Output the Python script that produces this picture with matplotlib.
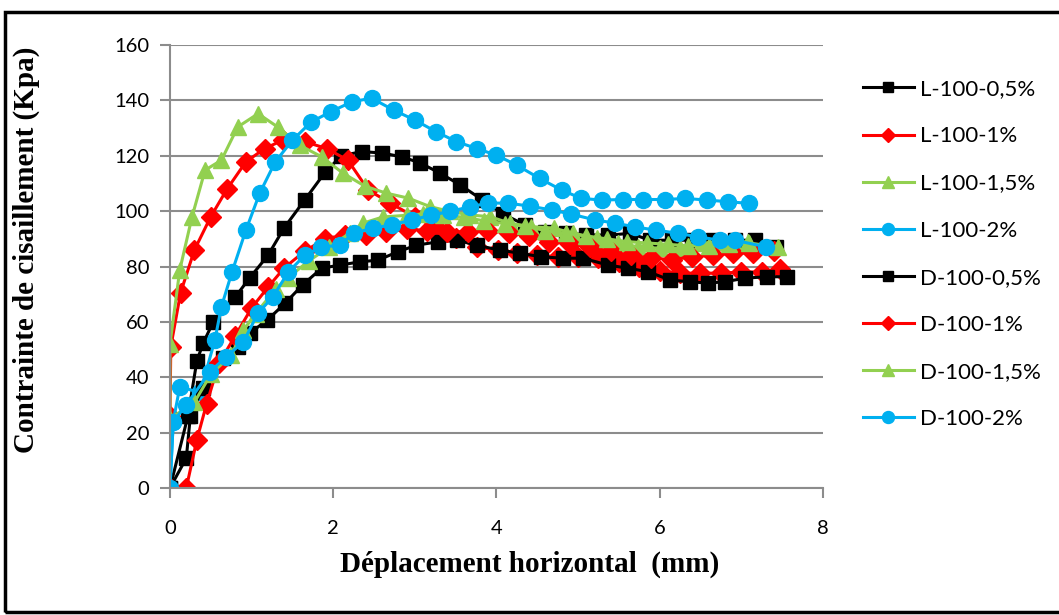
import matplotlib
matplotlib.use("Agg")
import matplotlib.pyplot as plt
from matplotlib.patches import Rectangle

# ------------------------
# DATA
# ------------------------
labels = ["L-100-0,5%", "L-100-1%", "L-100-1,5%", "L-100-2%",
          "D-100-0,5%", "D-100-1%", "D-100-1,5%", "D-100-2%"]

l05_x = [0, 0.22, 0.33, 0.41, 0.53, 0.8, 0.98, 1.2, 1.4, 1.65, 1.9, 2.1, 2.35, 2.6, 2.84,
         3.06, 3.31, 3.56, 3.82, 4.08, 4.35, 4.6, 4.85, 5.1, 5.37, 5.64, 5.88, 6.15, 6.4,
         6.65, 6.92, 7.17, 7.43]
l05_y = [0, 26, 46, 52.5, 60, 69, 76, 84, 94, 104, 114, 120, 121.5, 121, 119.6,
         117.5, 113.7, 109.4, 104.2, 99, 95, 92.5, 92, 91.5, 91.3, 92, 89.5, 89.5, 89.5,
         89.5, 89.5, 89.5, 87.1]

l1_x = [0, 0, 0.01, 0.13, 0.3, 0.5, 0.7, 0.93, 1.16, 1.38, 1.65, 1.92, 2.18, 2.43, 2.7,
        3.0, 3.27, 3.51, 3.76, 4.02, 4.25, 4.5, 4.75, 5.0, 5.25, 5.5, 5.75, 6.0, 6.25,
        6.5, 6.75, 7.0, 7.25, 7.47]
l1_y = [0, 26, 51, 70.5, 86, 98, 108, 117.8, 122.6, 125.6, 125.1, 122.6, 118.4, 107.6, 102.9,
        97.9, 93.9, 90.3, 87.1, 85.9, 84.8, 84, 83.5, 83.5, 83, 81.5, 80, 78.5, 77.6,
        77.6, 77.6, 78, 78, 79]

l15_x = [0, 0, 0.12, 0.27, 0.43, 0.63, 0.83, 1.08, 1.32, 1.59, 1.86, 2.12, 2.39, 2.65,
         2.92, 3.19, 3.43, 3.68, 3.92, 4.17, 4.43, 4.7, 4.94, 5.23, 5.49, 5.74, 6.0, 6.25,
         6.51, 6.7, 6.9, 7.08]
l15_y = [0, 52, 78.7, 97.9, 114.8, 118.4, 130.4, 135.2, 130.4, 123.8, 119.6, 113.7, 109, 106.5,
         104.7, 101.6, 99.9, 98.6, 98, 95.6, 94.4, 93.9, 92, 90.3, 88.4, 87.1, 86.6, 86.6,
         88.4, 88.9, 88.9, 88.9]

l2_x = [0, 0.04, 0.12, 0.37, 0.55, 0.63, 0.76, 0.93, 1.1, 1.29, 1.5, 1.73, 1.97, 2.23,
        2.47, 2.74, 3.0, 3.26, 3.51, 3.76, 4.0, 4.25, 4.53, 4.8, 5.04, 5.29, 5.55, 5.8,
        6.07, 6.31, 6.58, 6.84, 7.09]
l2_y = [0, 24, 36.5, 34.5, 53.4, 65.4, 78, 93.1, 106.5, 117.8, 125.6, 132.2, 135.9, 139.5,
        140.8, 136.5, 132.9, 128.7, 125.1, 122.6, 120.2, 116.6, 111.8, 107.6, 104.6, 104, 104.2, 104.2,
        104.2, 104.6, 104, 103.4, 102.8]

d05_x = [0, 0.2, 0.25, 0.4, 0.65, 0.83, 0.98, 1.19, 1.41, 1.63, 1.86, 2.08, 2.33, 2.55,
         2.79, 3.02, 3.28, 3.52, 3.76, 4.04, 4.29, 4.55, 4.82, 5.06, 5.37, 5.61, 5.86, 6.13,
         6.37, 6.59, 6.8, 7.05, 7.31, 7.56]
d05_y = [0, 10.8, 26, 36, 47, 51, 56, 60.6, 66.7, 73.5, 79.4, 80.5, 81.7, 82.3,
         85.3, 87.7, 88.9, 89.5, 87.7, 85.9, 84.8, 83.5, 83, 83, 80.5, 79.4, 78.1, 75.1,
         74.5, 74, 74.5, 75.8, 76.3, 76.3]

d1_x = [0, 0.2, 0.33, 0.45, 0.6, 0.8, 1.0, 1.2, 1.4, 1.65, 1.9, 2.15, 2.4, 2.65, 2.9,
        3.15, 3.4, 3.65, 3.9, 4.15, 4.4, 4.65, 4.9, 5.15, 5.4, 5.65, 5.9, 6.15, 6.4, 6.65,
        6.9, 7.15, 7.4]
d1_y = [0, 0, 17.5, 30.5, 45, 55, 65, 72.5, 79.5, 85.5, 90, 91.5, 91.5, 92.5, 93.5,
        93, 92.5, 92.5, 93, 92, 91, 89, 88, 87, 85.5, 84, 83, 82.5, 83.5, 84,
        84.8, 85, 85.5]

d15_x = [0, 0, 0.3, 0.5, 0.75, 0.9, 1.05, 1.3, 1.45, 1.7, 1.95, 2.2, 2.37, 2.61, 2.9,
         3.1, 3.35, 3.6, 3.85, 4.1, 4.35, 4.6, 4.85, 5.1, 5.35, 5.6, 5.85, 6.1, 6.35,
         6.6, 6.85, 7.1, 7.45]
d15_y = [0, 25, 31, 41, 48, 57, 63, 72, 76, 82, 87, 92, 95.7, 97.9, 98.5,
         99, 98.5, 97.8, 96.5, 95.5, 94.5, 93, 92, 91, 90, 89, 88.5, 88, 87.5,
         87.5, 88, 88.5, 87]

d2_x = [0, 0.04, 0.2, 0.49, 0.69, 0.9, 1.08, 1.26, 1.45, 1.65, 1.85, 2.08, 2.25, 2.49,
        2.72, 2.96, 3.2, 3.43, 3.68, 3.9, 4.14, 4.41, 4.68, 4.92, 5.21, 5.45, 5.7, 5.96,
        6.23, 6.47, 6.74, 6.92, 7.3]
d2_y = [0, 24, 30, 42, 47.4, 52.8, 63.2, 69, 78, 84, 87, 87.7, 92, 93.9,
        95, 96.8, 98.5, 99.9, 101.6, 102.9, 102.9, 101.8, 100.4, 98.9, 96.8, 95.7, 94.3, 93.1,
        92, 90.7, 89.5, 89.5, 87.1]

xs = [l05_x, l1_x, l15_x, l2_x, d05_x, d1_x, d15_x, d2_x]
ys = [l05_y, l1_y, l15_y, l2_y, d05_y, d1_y, d15_y, d2_y]

# ------------------------
# STYLE
# ------------------------
colors = ["#000000", "#FF0000", "#92D050", "#00B0F0"] * 2
markers = ["s", "D", "^", "o"] * 2
msizes = [10, 10, 12, 11.5] * 2

fig = plt.figure(figsize=(10.59, 6.15), dpi=100)
ax = fig.add_axes([0.1605, 0.2065, 0.777 - 0.1605, 0.9268 - 0.2065])

for x, y, lab, c, m, s in zip(xs, ys, labels, colors, markers, msizes):
    ax.plot(x, y, color=c, marker=m, markersize=s, lw=2.2, label=lab,
            markeredgecolor=c, markerfacecolor=c)

ax.set_xlim(0, 8)
ax.set_ylim(0, 160)
ax.set_xticks(range(0, 9, 2))
ax.set_yticks(range(0, 161, 20))
ax.grid(axis="y", color="#8c8c8c", lw=1.5)
ax.set_axisbelow(True)
for side in ["top", "right"]:
    ax.spines[side].set_visible(False)
for side in ["left", "bottom"]:
    ax.spines[side].set_color("#8c8c8c")
    ax.spines[side].set_linewidth(1.5)
ax.tick_params(axis="both", direction="out", length=7, width=1.5, color="#8c8c8c",
               labelsize=14.5)
ax.tick_params(axis="y", pad=8)
ax.tick_params(axis="x", pad=16)
for t in ax.get_xticklabels() + ax.get_yticklabels():
    t.set_family("Lato")

ax.set_xlabel("Déplacement horizontal  (mm)", family="Liberation Serif",
              fontweight="bold", fontsize=21)
ax.set_ylabel("Contrainte de cisaillement (Kpa)", family="Liberation Serif",
              fontweight="bold", fontsize=21)
ax.xaxis.set_label_coords(0.551, -0.142)
ax.yaxis.set_label_coords(-0.199, 0.537)

leg = ax.legend(loc="upper left", bbox_to_anchor=(1.031, 0.968), frameon=False,
                prop={"family": "Lato", "size": 16}, handlelength=2.27,
                handletextpad=0.27, labelspacing=1.22, markerscale=0.75)

# outer black frame (right side runs off the picture)
fig.patches.append(Rectangle((5 / 1059, 3 / 615), 1.1, (612 - 12) / 615,
                             transform=fig.transFigure, fill=False, ec="black", lw=2.5,
                             clip_on=False))

fig.savefig("out.png", dpi=100)
